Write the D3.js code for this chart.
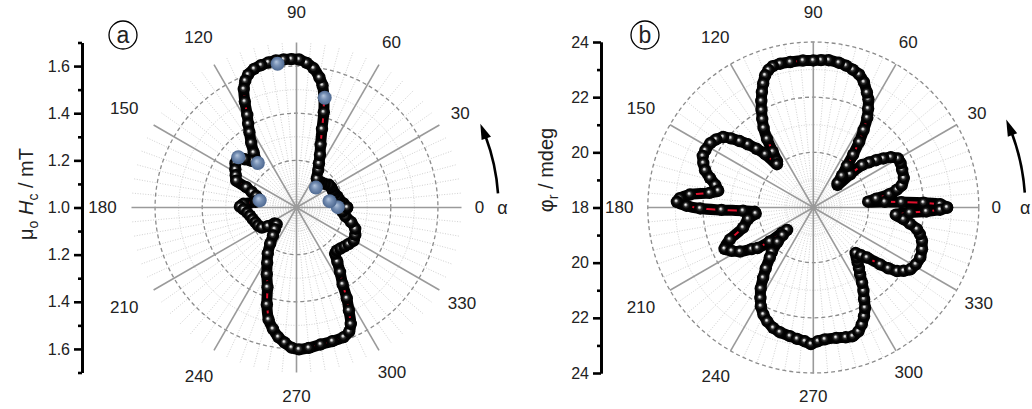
<!DOCTYPE html>
<html>
<head>
<meta charset="utf-8">
<script src="https://d3js.org/d3.v7.min.js"></script>
<style>
  body { margin: 0; background: #fff; }
  svg text { font-family: "Liberation Sans", Arial, sans-serif; fill: #222; }
</style>
</head>
<body>
<svg id="chart" width="1032" height="409"></svg>
<script>
// ---- panel a: coercive field (mT) vs in-plane angle alpha (deg)
const anglesA = [0, 5, 10, 15, 20, 25, 30, 35, 40, 45, 50, 55, 60, 63, 66, 69, 72, 74, 76, 78,
  80, 83, 86, 89, 92, 95, 98, 101, 104, 107, 110, 112, 114, 116, 118, 120, 122, 125, 128, 131,
  134, 137, 140, 144, 148, 152, 156, 158, 161, 164, 168, 172, 176, 179, 182, 186, 190, 195, 200, 205,
  210, 213, 216, 220, 225, 230, 234, 238, 242, 246, 250, 253, 256, 259, 262, 265, 268, 271, 275, 280,
  285, 290, 293, 295, 297, 299, 301, 304, 307, 310, 313, 317, 321, 325, 330, 335, 340, 345, 350, 355, 360];
const hcA = [1.215, 1.20, 1.185, 1.18, 1.172, 1.17, 1.17, 1.168, 1.156, 1.15, 1.146, 1.15, 1.185, 1.21, 1.245, 1.285, 1.35, 1.42, 1.48, 1.53,
  1.56, 1.595, 1.615, 1.628, 1.63, 1.63, 1.63, 1.627, 1.622, 1.615, 1.60, 1.58, 1.55, 1.50, 1.445, 1.41, 1.377, 1.335, 1.295, 1.264,
  1.275, 1.30, 1.325, 1.32, 1.306, 1.292, 1.28, 1.23, 1.20, 1.178, 1.162, 1.175, 1.225, 1.24, 1.225, 1.21, 1.20, 1.192, 1.185, 1.18,
  1.17, 1.145, 1.115, 1.11, 1.13, 1.155, 1.19, 1.23, 1.265, 1.31, 1.36, 1.43, 1.49, 1.525, 1.555, 1.575, 1.595, 1.602, 1.598, 1.59,
  1.587, 1.585, 1.572, 1.545, 1.49, 1.44, 1.38, 1.33, 1.288, 1.255, 1.25, 1.255, 1.262, 1.27, 1.28, 1.275, 1.265, 1.24, 1.21, 1.195, 1.215];
// blue points of panel a
const blueAnglesA = [0.5, 10.9, 45.7, 75.6, 97.5, 131, 139.2, 169.1];
const blueHcA = [1.175, 1.143, 1.118, 1.481, 1.615, 1.25, 1.326, 1.159];

// ---- panel b: rotation phi_r (mdeg) vs alpha (deg)
const anglesB = [0, 1.5, 2.5, 3.5, 4.5, 6, 8, 10, 12, 14, 18, 23, 27, 30, 33, 35, 37, 39, 41, 42,
  43, 45, 48, 51, 53, 55, 57, 59, 61, 63, 65, 68, 71, 74, 77, 80, 84, 87, 90, 94,
  99, 103, 106, 108, 110, 112, 114, 116, 118, 120, 122, 124, 126, 128, 130, 132, 134, 136, 138, 140,
  142, 145, 148, 152, 155, 158, 161, 164, 167, 170, 172, 174, 176, 177.6, 179.2, 180.5, 181.5, 182.7, 184.2, 186,
  190, 196, 201, 205, 208, 211, 214, 216, 218, 219, 220.5, 222, 224, 227, 229, 232, 234.5, 237, 239.7, 242,
  245, 248, 251.6, 255, 259.7, 263, 266.4, 269, 272, 275, 280, 284, 287, 290, 292.5, 295, 297.3, 299, 301, 303,
  305, 307, 309, 311, 313, 315, 317, 319.6, 321, 322.8, 325, 327.5, 331, 335, 339, 343, 346, 348.2, 350.5, 352.6,
  355, 357, 358, 359, 360];
const phiB = [22.85, 22.6, 22.0, 21.2, 20.6, 20.0, 20.3, 20.8, 21.1, 21.3, 21.45, 21.5, 21.55, 21.55, 21.35, 21.1, 20.85, 20.6, 20.35, 19.8,
  19.2, 19.25, 19.55, 19.94, 20.4, 20.9, 21.35, 21.8, 22.1, 22.4, 22.6, 22.9, 23.1, 23.2, 23.28, 23.33, 23.37, 23.35, 23.33, 23.34,
  23.34, 23.35, 23.33, 23.25, 23.1, 22.85, 22.58, 22.3, 22.0, 21.7, 21.4, 21.0, 20.5, 20.15, 20.05, 20.6, 20.96, 21.3, 21.6, 21.9,
  22.15, 22.3, 22.4, 22.43, 22.42, 22.3, 22.15, 21.9, 21.65, 21.5, 21.8, 22.5, 22.85, 22.95, 22.6, 22.1, 21.33, 20.55, 20.13, 20.1,
  20.4, 20.65, 21.24, 21.55, 21.35, 21.1, 20.7, 20.5, 20.0, 19.45, 19.25, 19.5, 19.8, 20.2, 20.4, 20.8, 21.13, 21.5, 21.8, 22.05,
  22.28, 22.45, 22.6, 22.68, 22.74, 22.8, 22.86, 22.95, 22.85, 22.8, 22.8, 22.85, 22.88, 22.78, 22.59, 22.35, 22.09, 21.8, 21.53, 21.25,
  20.96, 20.75, 20.55, 20.4, 20.25, 20.45, 20.66, 21.18, 21.5, 21.81, 22.0, 22.17, 22.25, 22.28, 22.22, 22.12, 21.98, 21.84, 21.55, 21.3,
  21.0, 21.5, 22.1, 22.6, 22.85];

const spokeAngles = [0, 30, 60, 90, 120, 150, 180, 210, 240, 270, 300, 330];
const labelRadius = [183, 189, 190, 195, 196, 199, 194, 199, 195, 189, 191, 191];

const svg = d3.select("#chart");
const defs = svg.append("defs");

const g1 = defs.append("radialGradient").attr("id", "ball")
  .attr("cx", "50%").attr("cy", "50%").attr("r", "50%").attr("fx", "42%").attr("fy", "40%");
g1.append("stop").attr("offset", "0%").attr("stop-color", "#ffffff");
g1.append("stop").attr("offset", "14%").attr("stop-color", "#c8c8c8");
g1.append("stop").attr("offset", "34%").attr("stop-color", "#303030");
g1.append("stop").attr("offset", "60%").attr("stop-color", "#050505");
g1.append("stop").attr("offset", "100%").attr("stop-color", "#000");

const g2 = defs.append("radialGradient").attr("id", "blueball")
  .attr("cx", "50%").attr("cy", "50%").attr("r", "50%").attr("fx", "40%").attr("fy", "35%");
g2.append("stop").attr("offset", "0%").attr("stop-color", "#b4c6de");
g2.append("stop").attr("offset", "45%").attr("stop-color", "#7891b5");
g2.append("stop").attr("offset", "100%").attr("stop-color", "#4d6890");

function rad(d) { return d * Math.PI / 180; }

function drawPanel(p) {
  const g = svg.append("g");
  const r = d3.scaleLinear().domain(p.domain).range([0, p.R]);
  const px = (a, v) => p.cx + r(v) * Math.cos(rad(a));
  const py = (a, v) => p.cy - r(v) * Math.sin(rad(a));

  // dotted minor radial lines every 5 deg
  const minorAng = d3.range(0, 360, 5).filter(a => a % 30 !== 0);
  g.selectAll(".mrad").data(minorAng).join("line")
    .attr("x1", p.cx).attr("y1", p.cy)
    .attr("x2", a => px(a, p.domain[1])).attr("y2", a => py(a, p.domain[1]))
    .attr("stroke", "#c4c4c4").attr("stroke-width", 0.8).attr("stroke-dasharray", "1,1.6");

  // dotted minor circles
  g.selectAll(".mcirc").data(p.minorCircles).join("circle")
    .attr("cx", p.cx).attr("cy", p.cy).attr("r", d => r(d))
    .attr("fill", "none").attr("stroke", "#c4c4c4").attr("stroke-width", 0.8).attr("stroke-dasharray", "1,1.6");

  // dashed major circles
  g.selectAll(".circ").data(p.majorCircles).join("circle")
    .attr("cx", p.cx).attr("cy", p.cy).attr("r", d => r(d))
    .attr("fill", "none").attr("stroke", "#8c8c8c").attr("stroke-width", 1.3).attr("stroke-dasharray", "4,3");

  // solid spokes every 30 deg
  g.selectAll(".spoke").data(spokeAngles).join("line")
    .attr("x1", p.cx).attr("y1", p.cy)
    .attr("x2", a => px(a, p.domain[1])).attr("y2", a => py(a, p.domain[1]))
    .attr("stroke", "#9a9a9a").attr("stroke-width", 1.6);

  // angle labels
  g.selectAll(".alab").data(spokeAngles).join("text")
    .attr("x", (a, i) => p.cx + labelRadius[i] * Math.cos(rad(a)))
    .attr("y", (a, i) => p.cy - labelRadius[i] * Math.sin(rad(a)))
    .attr("text-anchor", "middle").attr("dominant-baseline", "central")
    .attr("font-size", 17).text(a => a);
  g.append("text").attr("x", p.cx + p.alphaDx).attr("y", p.cy)
    .attr("text-anchor", "middle").attr("dominant-baseline", "central")
    .attr("font-size", 18).text("α");

  // rotation arrow
  const ar = p.arrowR, a0 = rad(4), a1 = rad(20.5), at = rad(24.5);
  g.append("path")
    .attr("d", `M${p.cx + ar * Math.cos(a0)},${p.cy - ar * Math.sin(a0)} A${ar},${ar} 0 0 0 ${p.cx + ar * Math.cos(a1)},${p.cy - ar * Math.sin(a1)}`)
    .attr("fill", "none").attr("stroke", "#000").attr("stroke-width", 2.6);
  const ab = rad(20), hw = 5;
  g.append("path")
    .attr("d", `M${p.cx + ar * Math.cos(at)},${p.cy - ar * Math.sin(at)}
      L${p.cx + (ar + hw) * Math.cos(ab)},${p.cy - (ar + hw) * Math.sin(ab)}
      L${p.cx + (ar - hw) * Math.cos(ab)},${p.cy - (ar - hw) * Math.sin(ab)} Z`)
    .attr("fill", "#000");

  // radial axis at the left
  const up = d3.scaleLinear().domain(p.domain).range([p.cy, p.cy - p.R]);
  const dn = d3.scaleLinear().domain(p.domain).range([p.cy, p.cy + p.R]);
  const fmt = p.fmt;
  const axG = g.append("g").attr("transform", `translate(${p.axisX},0)`);
  axG.append("g").call(d3.axisLeft(up).tickValues(p.majorTicks).tickSize(8).tickSizeOuter(0).tickPadding(4).tickFormat(fmt));
  axG.append("g").call(d3.axisLeft(dn).tickValues(p.majorTicks.slice(1)).tickSize(8).tickSizeOuter(0).tickPadding(4).tickFormat(fmt));
  axG.append("g").call(d3.axisLeft(up).tickValues(p.minorTicks).tickSize(4).tickSizeOuter(0).tickFormat(""));
  axG.append("g").call(d3.axisLeft(dn).tickValues(p.minorTicks).tickSize(4).tickSizeOuter(0).tickFormat(""));
  axG.selectAll(".domain").attr("stroke", "#000").attr("stroke-width", 2.8);
  axG.selectAll(".tick line").attr("stroke", "#000").attr("stroke-width", 2.6);
  axG.selectAll(".tick text").attr("font-size", 16).attr("fill", "#222")
    .attr("font-family", '"Liberation Sans", Arial, sans-serif');

  // panel letter
  g.append("circle").attr("cx", p.letterX).attr("cy", 35).attr("r", 14)
    .attr("fill", "#fff").attr("stroke", "#000").attr("stroke-width", 1.3);
  g.append("text").attr("x", p.letterX).attr("y", 35).attr("text-anchor", "middle")
    .attr("dominant-baseline", "central").attr("font-size", 23).text(p.letter);

  // data: black band of overlapping spheres, thin red connecting line, spheres
  const pts = p.angles.map((a, i) => [px(a, p.values[i]), py(a, p.values[i])]);
  g.append("path").datum(pts)
    .attr("d", d3.line().curve(d3.curveCatmullRom))
    .attr("fill", "none").attr("stroke", "#000").attr("stroke-width", 11).attr("stroke-linejoin", "round");
  g.append("path").datum(pts)
    .attr("d", d3.line())
    .attr("fill", "none").attr("stroke", "#e0102c").attr("stroke-width", 2);
  g.selectAll(".ball").data(pts).join("circle")
    .attr("cx", d => d[0]).attr("cy", d => d[1]).attr("r", 6.2)
    .attr("fill", "url(#ball)");

  if (p.blueAngles) {
    g.selectAll(".bball").data(p.blueAngles).join("circle")
      .attr("cx", (a, i) => px(a, p.blueValues[i]))
      .attr("cy", (a, i) => py(a, p.blueValues[i]))
      .attr("r", 7).attr("fill", "url(#blueball)");
  }
  return g;
}

drawPanel({
  cx: 296.5, cy: 207.5, R: 165, domain: [1.0, 1.7],
  majorCircles: [1.2, 1.4, 1.6], minorCircles: [1.1, 1.3, 1.5],
  majorTicks: [1.0, 1.2, 1.4, 1.6], minorTicks: [1.1, 1.3, 1.5, 1.7],
  fmt: d3.format(".1f"), axisX: 82, alphaDx: 206, arrowR: 202,
  letter: "a", letterX: 123,
  angles: anglesA, values: hcA, blueAngles: blueAnglesA, blueValues: blueHcA
});

drawPanel({
  cx: 813.3, cy: 207.5, R: 165.5, domain: [18, 24],
  majorCircles: [20, 22, 24], minorCircles: [19, 21, 23],
  majorTicks: [18, 20, 22, 24], minorTicks: [19, 21, 23],
  fmt: d3.format("d"), axisX: 601, alphaDx: 212, arrowR: 212,
  letter: "b", letterX: 645,
  angles: anglesB, values: phiB
});

// axis titles
const t1 = svg.append("text").attr("transform", "translate(33,194) rotate(-90)")
  .attr("text-anchor", "middle").attr("font-size", 20);
t1.append("tspan").text("μ");
t1.append("tspan").attr("font-size", 14).attr("dy", 5).text("o");
t1.append("tspan").attr("dy", -5).attr("font-style", "italic").text(" H");
t1.append("tspan").attr("font-size", 14).attr("dy", 5).text("c");
t1.append("tspan").attr("dy", -5).text(" / mT");

const t2 = svg.append("text").attr("transform", "translate(553,170) rotate(-90)")
  .attr("text-anchor", "middle").attr("font-size", 20);
t2.append("tspan").text("φ");
t2.append("tspan").attr("font-size", 14).attr("dy", 5).text("r");
t2.append("tspan").attr("dy", -5).text(" / mdeg");
</script>
</body>
</html>
